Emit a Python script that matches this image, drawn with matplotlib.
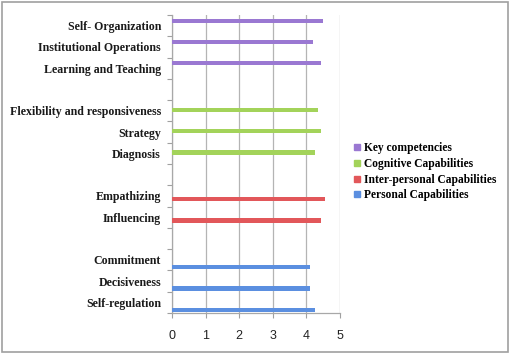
import numpy as np
import matplotlib
matplotlib.use("Agg")
import matplotlib.pyplot as plt
from matplotlib.patches import Rectangle
from matplotlib.lines import Line2D

# categories from bottom to top, '' = empty spacer row
categories = [
    "Self-regulation", "Decisiveness", "Commitment", "",
    "Influencing", "Empathizing", "",
    "Diagnosis", "Strategy", "Flexibility and responsiveness", "",
    "Learning and Teaching", "Institutional Operations", "Self- Organization",
]
nan = np.nan
personal = [4.26, 4.12, 4.10, nan, nan, nan, nan, nan, nan, nan, nan, nan, nan, nan]
interpersonal = [nan, nan, nan, nan, 4.44, 4.54, nan, nan, nan, nan, nan, nan, nan, nan]
cognitive = [nan, nan, nan, nan, nan, nan, nan, 4.26, 4.43, 4.36, nan, nan, nan, nan]
key = [nan, nan, nan, nan, nan, nan, nan, nan, nan, nan, nan, 4.43, 4.20, 4.50]

series_names = ["Personal Capabilities", "Inter-personal Capabilities",
                "Cognitive Capabilities", "Key competencies"]
colors = ["#5b8fe0", "#e2575a", "#a3d35a", "#9a78d2"]

fig = plt.figure(figsize=(5.10, 3.57), dpi=100)
ax = fig.add_axes([172 / 510, 44 / 357, 168 / 510, 298 / 357])

y = np.arange(len(categories))
offsets = [-0.35, -0.155, 0.04, 0.235]
for vals, off, col in zip([personal, interpersonal, cognitive, key], offsets, colors):
    ax.barh(y + off, vals, height=0.2, color=col, edgecolor="none", zorder=3)

ax.set_xlim(0, 5)
ax.set_ylim(-0.5, len(categories) - 0.5)
ax.set_xticks(range(6))
ax.set_yticks(np.arange(-0.5, len(categories), 1.0))
ax.set_yticklabels([])
ax.set_yticks(y, minor=True)
ax.set_yticklabels(categories, minor=True, family="Liberation Serif",
                   fontweight="bold", fontsize=8.6, color="#1a1a1a")
ax.tick_params(axis="y", which="minor", length=0, pad=8)
ax.tick_params(axis="y", which="major", length=3.5, color="#a0a0a0", direction="out")
ax.tick_params(axis="x", length=3.5, color="#a0a0a0", pad=9, labelsize=9, labelcolor="#222222")
for lab in ax.get_xticklabels():
    lab.set_family("Liberation Sans")

ax.grid(axis="x", color="#b4b4b4", lw=0.9, zorder=0)
for s in ["top", "right"]:
    ax.spines[s].set_visible(False)
for s in ["left", "bottom"]:
    ax.spines[s].set_color("#a8a8a8")
    ax.spines[s].set_linewidth(0.9)

handles = [Line2D([], [], ls="none", marker="s", markersize=4, color=c) for c in colors[::-1]]
fig.legend(handles, series_names[::-1], loc="upper left",
           bbox_to_anchor=(343 / 510, 1 - 132 / 357), frameon=False,
           handlelength=0.6, handletextpad=0.35, labelspacing=0.32,
           prop={"family": "Liberation Serif", "weight": "bold", "size": 8.3})

fig.patches.append(Rectangle((2 / 510, 5 / 357), 506 / 510, 350 / 357,
                             transform=fig.transFigure, fill=False,
                             edgecolor="#a0a0a0", lw=1.2))

fig.savefig("out.png", dpi=100)
